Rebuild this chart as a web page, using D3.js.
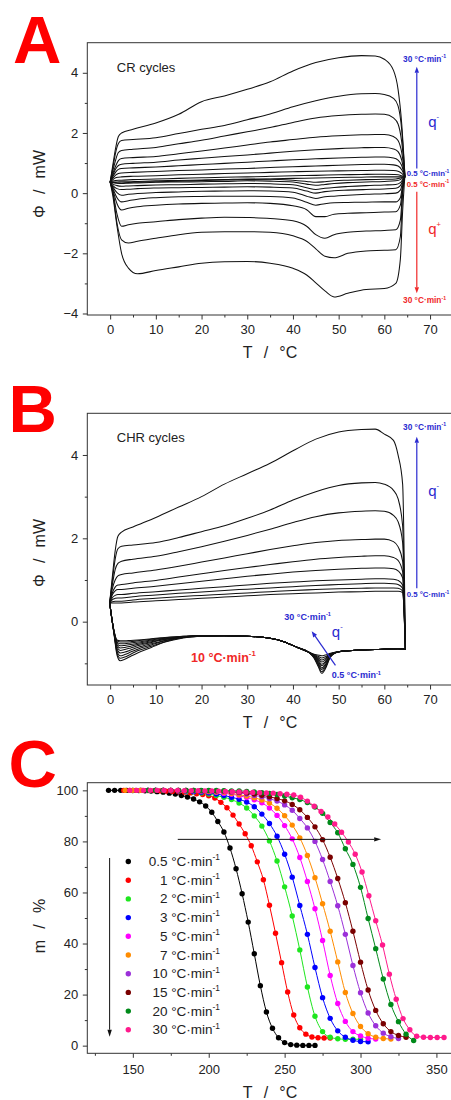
<!DOCTYPE html>
<html><head><meta charset="utf-8">
<script src="https://cdn.jsdelivr.net/npm/d3@7/dist/d3.min.js"></script>
<style>
html,body{margin:0;padding:0;background:#fff;}
svg{display:block;}
</style></head>
<body>
<svg id="chart" width="451" height="1100" xmlns="http://www.w3.org/2000/svg"></svg>
<script>
// ================= DATA =================
const rates = [30, 20, 15, 10, 7, 5, 3, 2, 1, 0.5];

// ---- Panel A : CR cycles ----
const TA_cool = [0, 0.6, 1.2, 1.8, 2.5, 5, 10, 15, 20, 25, 30, 35, 40, 45, 50, 55, 58, 60, 62, 63, 63.8, 64.5];
const A_cool = [
  [0.37, 0.95, 1.5, 1.88, 2.0, 2.12, 2.33, 2.62, 3.04, 3.23, 3.45, 3.7, 4.06, 4.34, 4.5, 4.57, 4.56, 4.45, 4.08, 3.45, 2.3, 0.6],
  [0.37, 0.85, 1.35, 1.65, 1.75, 1.78, 1.84, 1.98, 2.12, 2.25, 2.44, 2.63, 2.87, 3.07, 3.22, 3.3, 3.31, 3.28, 3.15, 2.9, 2.1, 0.58],
  [0.37, 0.75, 1.1, 1.35, 1.42, 1.46, 1.52, 1.64, 1.76, 1.9, 2.04, 2.18, 2.35, 2.5, 2.58, 2.62, 2.63, 2.62, 2.5, 2.3, 1.7, 0.57],
  [0.37, 0.65, 0.9, 1.08, 1.15, 1.18, 1.22, 1.31, 1.4, 1.5, 1.6, 1.7, 1.78, 1.86, 1.91, 1.94, 1.95, 1.95, 1.88, 1.75, 1.35, 0.56],
  [0.37, 0.6, 0.8, 0.92, 0.96, 0.99, 1.03, 1.1, 1.16, 1.22, 1.27, 1.33, 1.39, 1.44, 1.48, 1.51, 1.52, 1.52, 1.47, 1.38, 1.1, 0.55],
  [0.37, 0.55, 0.7, 0.79, 0.82, 0.84, 0.87, 0.91, 0.95, 0.99, 1.03, 1.07, 1.11, 1.14, 1.17, 1.19, 1.2, 1.2, 1.17, 1.1, 0.92, 0.55],
  [0.37, 0.5, 0.6, 0.65, 0.67, 0.69, 0.72, 0.75, 0.77, 0.8, 0.82, 0.85, 0.88, 0.9, 0.93, 0.95, 0.96, 0.96, 0.94, 0.9, 0.78, 0.55],
  [0.37, 0.45, 0.51, 0.53, 0.54, 0.56, 0.58, 0.61, 0.63, 0.65, 0.67, 0.69, 0.71, 0.73, 0.74, 0.75, 0.76, 0.76, 0.75, 0.73, 0.66, 0.55],
  [0.37, 0.4, 0.42, 0.43, 0.43, 0.45, 0.47, 0.49, 0.51, 0.53, 0.54, 0.56, 0.58, 0.59, 0.61, 0.62, 0.63, 0.63, 0.62, 0.61, 0.58, 0.55],
  [0.37, 0.36, 0.35, 0.34, 0.34, 0.36, 0.38, 0.4, 0.42, 0.44, 0.45, 0.47, 0.49, 0.5, 0.52, 0.53, 0.54, 0.54, 0.54, 0.54, 0.54, 0.55]
];
const TA_heat = [0, 0.6, 1.5, 2.5, 4, 6, 10, 15, 20, 25, 30, 35, 40, 43, 45, 47, 49, 52, 56, 60, 62.5, 63.5, 64, 64.5];
const A_heat = [
  [0.37, -0.1, -1.1, -2.0, -2.49, -2.68, -2.57, -2.45, -2.33, -2.28, -2.27, -2.33, -2.5, -2.72, -2.98, -3.25, -3.45, -3.33, -3.2, -3.17, -3.0, -2.2, -0.6, 0.6],
  [0.37, 0.0, -1.0, -1.55, -1.66, -1.6, -1.5, -1.38, -1.3, -1.28, -1.28, -1.3, -1.42, -1.6, -1.85, -2.1, -2.15, -2.0, -1.92, -1.9, -1.88, -1.45, 0.0, 0.58],
  [0.37, 0.05, -0.7, -1.1, -1.05, -1.0, -0.95, -0.88, -0.83, -0.8, -0.81, -0.84, -0.92, -1.1, -1.38, -1.5, -1.38, -1.3, -1.26, -1.24, -1.22, -0.9, 0.1, 0.57],
  [0.37, 0.1, -0.35, -0.56, -0.5, -0.45, -0.4, -0.36, -0.34, -0.33, -0.32, -0.34, -0.42, -0.55, -0.78, -0.78, -0.7, -0.67, -0.65, -0.63, -0.62, -0.4, 0.2, 0.56],
  [0.37, 0.15, -0.15, -0.29, -0.25, -0.2, -0.15, -0.12, -0.11, -0.1, -0.1, -0.11, -0.16, -0.3, -0.4, -0.35, -0.32, -0.31, -0.3, -0.29, -0.29, -0.15, 0.25, 0.55],
  [0.37, 0.2, 0.02, -0.07, -0.04, -0.01, 0.02, 0.04, 0.06, 0.07, 0.08, 0.07, 0.03, -0.1, -0.18, -0.12, -0.1, -0.07, -0.04, -0.02, 0.0, 0.1, 0.35, 0.55],
  [0.37, 0.25, 0.15, 0.12, 0.13, 0.15, 0.17, 0.18, 0.19, 0.2, 0.21, 0.2, 0.17, 0.07, 0.0, 0.05, 0.08, 0.1, 0.12, 0.14, 0.16, 0.25, 0.4, 0.55],
  [0.37, 0.3, 0.25, 0.23, 0.24, 0.25, 0.27, 0.28, 0.3, 0.31, 0.32, 0.31, 0.28, 0.18, 0.12, 0.16, 0.19, 0.22, 0.25, 0.27, 0.29, 0.35, 0.45, 0.55],
  [0.37, 0.35, 0.33, 0.32, 0.33, 0.34, 0.36, 0.37, 0.38, 0.39, 0.41, 0.4, 0.37, 0.3, 0.26, 0.29, 0.32, 0.35, 0.37, 0.39, 0.41, 0.45, 0.5, 0.55],
  [0.37, 0.37, 0.37, 0.38, 0.38, 0.39, 0.41, 0.42, 0.44, 0.45, 0.47, 0.46, 0.43, 0.39, 0.36, 0.38, 0.41, 0.43, 0.45, 0.46, 0.47, 0.5, 0.53, 0.55]
];

// ---- Panel B : CHR cycles ----
const TB_cool = [-0.1, 0.5, 1.1, 1.7, 2.5, 5, 10, 15, 20, 25, 30, 35, 40, 45, 50, 55, 58, 60, 62, 63, 64, 64.6];
const B_cool = [
  [0.45, 1.1, 1.7, 2.05, 2.15, 2.27, 2.5, 2.75, 3.0, 3.3, 3.55, 3.8, 4.1, 4.38, 4.55, 4.61, 4.62, 4.5, 4.35, 4.0, 3.3, -0.66],
  [0.45, 1.0, 1.5, 1.75, 1.81, 1.84, 1.9, 2.02, 2.16, 2.3, 2.48, 2.68, 2.92, 3.12, 3.27, 3.33, 3.34, 3.3, 3.15, 2.95, 2.3, -0.66],
  [0.45, 0.9, 1.25, 1.4, 1.45, 1.5, 1.57, 1.68, 1.8, 1.93, 2.07, 2.22, 2.38, 2.52, 2.61, 2.65, 2.66, 2.65, 2.55, 2.4, 1.9, -0.66],
  [0.45, 0.8, 1.0, 1.1, 1.13, 1.17, 1.24, 1.33, 1.43, 1.53, 1.63, 1.73, 1.82, 1.9, 1.95, 1.97, 1.98, 1.98, 1.92, 1.8, 1.45, -0.66],
  [0.45, 0.7, 0.83, 0.88, 0.89, 0.93, 0.99, 1.07, 1.15, 1.23, 1.3, 1.37, 1.44, 1.5, 1.54, 1.57, 1.58, 1.58, 1.54, 1.47, 1.2, -0.66],
  [0.45, 0.65, 0.74, 0.77, 0.77, 0.8, 0.85, 0.91, 0.97, 1.03, 1.09, 1.14, 1.19, 1.23, 1.26, 1.28, 1.29, 1.29, 1.27, 1.22, 1.05, -0.66],
  [0.45, 0.58, 0.63, 0.65, 0.65, 0.68, 0.72, 0.76, 0.8, 0.84, 0.88, 0.92, 0.95, 0.98, 1.0, 1.02, 1.03, 1.03, 1.02, 0.99, 0.88, -0.66],
  [0.45, 0.53, 0.56, 0.57, 0.57, 0.6, 0.64, 0.68, 0.71, 0.75, 0.78, 0.81, 0.84, 0.87, 0.89, 0.91, 0.92, 0.92, 0.91, 0.89, 0.8, -0.66],
  [0.45, 0.48, 0.49, 0.49, 0.49, 0.52, 0.56, 0.6, 0.63, 0.66, 0.69, 0.72, 0.75, 0.77, 0.79, 0.8, 0.81, 0.81, 0.81, 0.8, 0.74, -0.66],
  [0.45, 0.45, 0.45, 0.45, 0.45, 0.47, 0.5, 0.53, 0.56, 0.59, 0.62, 0.65, 0.67, 0.69, 0.71, 0.72, 0.73, 0.73, 0.73, 0.73, 0.7, -0.66]
];
const TB_heat = [-0.1, 0.4, 0.9, 1.5, 2.2, 3.2, 4.5, 6, 9, 12, 16, 20, 25, 30, 35, 38, 41, 43.4, 44.6, 45.5, 46.3, 47.1, 48.2, 50, 53, 58, 63, 64.6];
const B_heat = [
  [0.45, 0.05, -0.35, -0.8, -0.94, -0.9, -0.83, -0.75, -0.62, -0.49, -0.39, -0.35, -0.34, -0.35, -0.4, -0.48, -0.62, -0.73, -0.78, -0.8, -0.82, -0.8, -0.76, -0.72, -0.69, -0.67, -0.65, -0.66],
  [0.45, 0.05, -0.33, -0.75, -0.88, -0.85, -0.78, -0.7, -0.59, -0.48, -0.38, -0.35, -0.34, -0.35, -0.4, -0.48, -0.62, -0.73, -0.79, -0.83, -0.87, -0.84, -0.77, -0.72, -0.69, -0.67, -0.65, -0.66],
  [0.45, 0.05, -0.32, -0.7, -0.82, -0.79, -0.73, -0.66, -0.56, -0.46, -0.38, -0.35, -0.34, -0.35, -0.4, -0.48, -0.62, -0.73, -0.8, -0.86, -0.92, -0.88, -0.78, -0.72, -0.69, -0.67, -0.65, -0.66],
  [0.45, 0.05, -0.3, -0.65, -0.75, -0.73, -0.68, -0.62, -0.53, -0.45, -0.37, -0.35, -0.34, -0.35, -0.4, -0.48, -0.62, -0.73, -0.81, -0.89, -0.97, -0.92, -0.79, -0.72, -0.69, -0.67, -0.65, -0.66],
  [0.45, 0.05, -0.29, -0.6, -0.69, -0.67, -0.63, -0.58, -0.5, -0.43, -0.37, -0.34, -0.34, -0.35, -0.4, -0.48, -0.62, -0.73, -0.82, -0.92, -1.02, -0.96, -0.8, -0.72, -0.69, -0.67, -0.65, -0.66],
  [0.45, 0.05, -0.28, -0.56, -0.63, -0.62, -0.59, -0.55, -0.48, -0.42, -0.36, -0.34, -0.34, -0.35, -0.4, -0.48, -0.62, -0.73, -0.83, -0.95, -1.06, -0.99, -0.81, -0.72, -0.69, -0.67, -0.65, -0.66],
  [0.45, 0.05, -0.27, -0.52, -0.58, -0.57, -0.55, -0.52, -0.46, -0.41, -0.36, -0.34, -0.34, -0.35, -0.4, -0.48, -0.62, -0.73, -0.84, -0.98, -1.11, -1.03, -0.82, -0.72, -0.69, -0.67, -0.65, -0.66],
  [0.45, 0.05, -0.26, -0.49, -0.53, -0.53, -0.51, -0.49, -0.44, -0.4, -0.36, -0.34, -0.34, -0.35, -0.4, -0.48, -0.62, -0.73, -0.85, -1.01, -1.15, -1.06, -0.83, -0.72, -0.69, -0.67, -0.65, -0.66],
  [0.45, 0.05, -0.25, -0.46, -0.49, -0.49, -0.48, -0.46, -0.42, -0.39, -0.35, -0.34, -0.34, -0.35, -0.4, -0.48, -0.62, -0.73, -0.86, -1.04, -1.2, -1.1, -0.84, -0.72, -0.69, -0.67, -0.65, -0.66],
  [0.45, 0.05, -0.25, -0.44, -0.46, -0.46, -0.45, -0.44, -0.41, -0.38, -0.35, -0.34, -0.34, -0.35, -0.4, -0.48, -0.62, -0.73, -0.87, -1.07, -1.24, -1.13, -0.85, -0.72, -0.69, -0.67, -0.65, -0.66]
];

// ---- Panel C : TGA ----
const tgaRates  = ["0.5", "1", "2", "3", "5", "7", "10", "15", "20", "30"];
const tgaColors = ["#000000", "#ff0000", "#1ee61e", "#0000ff", "#ff00ff", "#ff8c00", "#9b30d9", "#7a0000", "#008a1a", "#ff1a8c"];
const tgaStart  = [134, 144, 150, 150, 155, 145, 160, 165, 160, 148];
const tgaStep   = [4, 4, 5, 5, 5, 5, 5, 5, 5, 4.5];
const tgaMass = [
  [100,100,100,100,99.9, 99.9,99.8,99.7,99.5,99.3, 98.9,98.6,98,97.4,96.6, 95.5,93.9,91.4,87.8,83.7, 77.4,69.3,59.5,48.4,36, 23.5,13.2,6.8,3.1,1.2, 0.4,0.2,0.1,0.1,0.1],
  [100,100,100,100,99.9, 99.9,99.8,99.7,99.6,99.5, 99.3,99,98.7,98.4,97.9, 97,95.3,93.2,90.3,86.8, 83,78.3,72,65,55, 44,32.5,21,12,7, 4.5,3.4,3.1,3,3],
  [100,100,100,100,99.9, 99.9,99.8,99.6,99.4,99, 98.6,98,97.3,96.4,95, 93.1,90,86,80.2,72.3, 62.2,50.8,37.5,23,11.5, 5.5,3.3,2.7,2.5,2.5, 2.5],
  [100,100,100,100,100, 99.9,99.8,99.7,99.5,99.3, 99,98.6,98,97.3,96.5, 95.4,93.6,90.7,87,82, 75,66,54.9,43.6,30.6, 18.8,10.7,5.8,3.3,2.1, 1.6,1.5],
  [100,100,100,100,100, 99.9,99.9,99.8,99.7,99.5, 99.3,98.8,98.5,97.9,97.2, 96.3,95.1,93.1,90.2,86.2, 81,73.7,64.3,53.6,41.2, 27.5,16.5,9.5,5.5,3.8, 2.9,2.6],
  [100,100,100,100,100, 100,100,100,99.9,99.9, 99.8,99.6,99.4,99.2,98.8, 98.3,97.8,97.1,96.2,95, 93,90.1,86.4,81.4,74.5, 65.8,55.6,44.8,32.8,20.8, 12.6,7.5,4.7,3.3,2.8, 2.6],
  [100,100,100,100,100, 100,99.9,99.9,99.8,99.7, 99.5,99.3,99,98.6,98, 97.5,96.7,95.8,94.3,92.2, 89,85.3,80,72.9,64.3, 54.8,43.6,31.4,20.7,12.8, 7.8,4.9,3.5,2.8],
  [100,100,100,100,100, 100,99.9,99.9,99.8,99.7, 99.5,99.3,99,98.6,98.1, 97.5,96.8,95.9,94.5,92.4, 89.4,85.7,80.7,73.8,65.5, 56,44.8,32.7,21.8,13.8, 8.6,5.5,4,3.3],
  [100,100,100,100,100, 100,100,100,100,100, 99.9,99.8,99.8,99.6,99.4, 99.1,98.8,98.4,97.8,97.1, 96.4,95.2,93.5,91,87.4, 83.4,77.1,71,62,49.8, 38,26.1,16.1,9.4,4.5, 2],
  [100,100,100,100,100, 100,100,100,99.9,99.9, 99.9,99.8,99.8,99.7,99.6, 99.5,99.4,99.3,99.2,99.1, 99,98.9,98.7,98.5,98.2, 97.3,95.8,93.8,91.7,89.6, 86.8,83.6,79.8,75,68, 58.7,48.9,39.4,28,18.2, 10.6,6.2,3.7,3.3,3.2, 3.2,3.2]
];

// ---- Axis ticks ----
const xMajorAB = [0, 10, 20, 30, 40, 50, 60, 70];
const xMinorAB = [5, 15, 25, 35, 45, 55, 65];
const yMajorA = [-4, -2, 0, 2, 4];
const yMinorA = [-3, -1, 1, 3];
const yMajorB = [0, 2, 4];
const yMinorB = [-1, 1, 3];
const xMajorC = [150, 200, 250, 300, 350];
const xMinorC = [125, 175, 225, 275, 325];
const yMajorC = [0, 20, 40, 60, 80, 100];
const yMinorC = [10, 30, 50, 70, 90];

// ================= DRAW =================
const FONT = "'Liberation Sans', Arial, Helvetica, sans-serif";
const svg = d3.select("#chart");
const BLUE = "#2a2ad0", RED = "#f02828";

const xA = d3.scaleLinear().domain([-5, 75]).range([87.3, 452.9]);
const yA = d3.scaleLinear().domain([-4.05, 5]).range([315, 42.7]);
const yB = d3.scaleLinear().domain([-1.52, 5]).range([685, 413.3]);
const xC = d3.scaleLinear().domain([120, 360]).range([87.3, 451.6]);
const yC = d3.scaleLinear().domain([-3, 103]).range([1053.3, 782.7]);

function frame(x, y, xMaj, xMin, yMaj, yMin, xPad) {
  const g = svg.append("g");
  const [x0, x1] = x.range();
  const [yb, yt] = y.range();
  g.append("g").attr("transform", `translate(0,${yb})`)
    .call(d3.axisBottom(x).tickValues(xMin).tickSize(2.5).tickFormat(""));
  g.append("g").attr("transform", `translate(0,${yb})`)
    .call(d3.axisBottom(x).tickValues(xMaj).tickSize(4.5).tickPadding(xPad).tickFormat(d3.format("d")));
  g.append("g").attr("transform", `translate(${x0},0)`)
    .call(d3.axisLeft(y).tickValues(yMin).tickSize(2.5).tickFormat(""));
  g.append("g").attr("transform", `translate(${x0},0)`)
    .call(d3.axisLeft(y).tickValues(yMaj).tickSize(4.5).tickPadding(4.5).tickFormat(d3.format("d")));
  g.selectAll(".domain").remove();
  g.selectAll("text").attr("font-size", 13).attr("font-family", FONT).attr("fill", "#222");
  g.selectAll("line").attr("stroke", "#333");
  g.append("rect").attr("x", x0).attr("y", yt).attr("width", x1 - x0).attr("height", yb - yt)
    .attr("fill", "none").attr("stroke", "#333").attr("stroke-width", 1);
}

function text(x, y, s, size, opts = {}) {
  return svg.append("text").attr("x", x).attr("y", y).attr("font-family", FONT)
    .attr("font-size", size).attr("font-weight", opts.weight || "normal")
    .attr("fill", opts.color || "#222").attr("text-anchor", opts.anchor || "start").text(s);
}
function rateText(x, y, rate, size, color, weight, anchor) {
  const t = svg.append("text").attr("x", x).attr("y", y).attr("font-family", FONT)
    .attr("font-size", size).attr("font-weight", weight || "normal").attr("fill", color)
    .attr("text-anchor", anchor || "start");
  t.append("tspan").text(`${rate} °C·min`);
  t.append("tspan").attr("font-size", size * 0.62).attr("dy", -size * 0.42).text("-1");
  return t;
}
function qText(x, y, sign, color, size) {
  const t = svg.append("text").attr("x", x).attr("y", y).attr("font-family", FONT)
    .attr("font-size", size).attr("fill", color);
  t.append("tspan").text("q");
  t.append("tspan").attr("font-size", size * 0.5).attr("dy", -size * 0.5).text(sign);
}
function arrow(x1, y1, x2, y2, color, len, w, sw) {
  const a = Math.atan2(y2 - y1, x2 - x1);
  const bx = x2 - len * Math.cos(a), by = y2 - len * Math.sin(a);
  svg.append("line").attr("x1", x1).attr("y1", y1).attr("x2", bx).attr("y2", by)
    .attr("stroke", color).attr("stroke-width", sw);
  const px = -Math.sin(a) * w, py = Math.cos(a) * w;
  svg.append("path").attr("d", `M${x2},${y2}L${bx + px},${by + py}L${bx - px},${by - py}Z`).attr("fill", color);
}
function axisTitles(cx, baseX, cy, xTitle, yTitle) {
  text(cx, baseX, xTitle, 16, { anchor: "middle" });
  svg.append("text").attr("transform", `translate(45,${cy}) rotate(-90)`)
    .attr("font-family", FONT).attr("font-size", 16).attr("fill", "#222")
    .attr("text-anchor", "middle").text(yTitle);
}
const SP = "\u2002\u2009";

// ---------- Panel A ----------
frame(xA, yA, xMajorAB, xMinorAB, yMajorA, yMinorA, 5.5);
{
  const line = d3.line().x(d => xA(d[0])).y(d => yA(d[1])).curve(d3.curveMonotoneX);
  const gA = svg.append("g").attr("fill", "none").attr("stroke", "#111").attr("stroke-width", 1.05);
  rates.forEach((r, i) => {
    gA.append("path").attr("d", line(TA_cool.map((t, j) => [t, A_cool[i][j]])));
    gA.append("path").attr("d", line(TA_heat.map((t, j) => [t, A_heat[i][j]])));
  });
  text(xA(1.45), yA(4.03), "CR cycles", 13);
  rateText(xA(64.1), yA(4.37), "30", 8.3, BLUE, "bold");
  arrow(xA(67.1), yA(0.82), xA(67.1), yA(4.2), BLUE, 6, 2.2, 1.2);
  qText(xA(69.6), yA(2.2), "-", BLUE, 15);
  rateText(xA(64.9), yA(0.57), "0.5", 7.8, BLUE, "bold");
  rateText(xA(64.9), yA(0.22), "0.5", 7.8, RED, "bold");
  arrow(xA(67.1), yA(0.05), xA(67.1), yA(-3.33), RED, 6, 2.2, 1.2);
  qText(xA(69.6), yA(-1.36), "+", RED, 15);
  rateText(xA(64.1), yA(-3.66), "30", 8.3, RED, "bold");
  axisTitles(270, 358, 184, `T${SP}/${SP}°C`, `Φ${SP}/${SP}mW`);
  text(13, 63, "A", 67, { weight: "bold", color: "#ff0000" });
}

// ---------- Panel B ----------
frame(xA, yB, xMajorAB, xMinorAB, yMajorB, yMinorB, 5.5);
{
  const line = d3.line().x(d => xA(d[0])).y(d => yB(d[1])).curve(d3.curveMonotoneX);
  const gB = svg.append("g").attr("fill", "none").attr("stroke", "#111").attr("stroke-width", 1.05);
  rates.forEach((r, i) => {
    gB.append("path").attr("d", line(TB_cool.map((t, j) => [t, B_cool[i][j]])));
    gB.append("path").attr("d", line(TB_heat.map((t, j) => [t, B_heat[i][j]])));
  });
  text(xA(1.45), yB(4.32), "CHR cycles", 13);
  rateText(xA(64.1), yB(4.6), "30", 8.3, BLUE, "bold");
  arrow(xA(67.1), yB(0.8), xA(67.1), yB(4.44), BLUE, 6, 2.2, 1.2);
  qText(xA(69.6), yB(3.02), "-", BLUE, 15);
  rateText(xA(64.9), yB(0.59), "0.5", 7.8, BLUE, "bold");
  arrow(xA(49.3), yB(-1.05), xA(44.1), yB(-0.23), BLUE, 6, 2.3, 1.2);
  rateText(xA(38.1), yB(0.04), "30", 9, BLUE, "bold");
  qText(xA(48.5), yB(-0.36), "-", BLUE, 15);
  rateText(xA(48.5), yB(-1.36), "0.5", 9, BLUE, "bold");
  rateText(xA(17.7), yB(-0.96), "10", 12.5, RED, "bold");
  axisTitles(270, 728.3, 553, `T${SP}/${SP}°C`, `Φ${SP}/${SP}mW`);
  text(8.5, 431.7, "B", 67, { weight: "bold", color: "#ff0000" });
}

// ---------- Panel C ----------
frame(xC, yC, xMajorC, xMinorC, yMajorC, yMinorC, 7);
{
  const line = d3.line().x(d => xC(d[0])).y(d => yC(d[1])).curve(d3.curveMonotoneX);
  const series = tgaMass.map((ms, i) => ms.map((m, j) => [tgaStart[i] + j * tgaStep[i], m]));
  const gC = svg.append("g");
  series.forEach((pts, i) => {
    gC.append("path").attr("d", line(pts)).attr("fill", "none")
      .attr("stroke", tgaColors[i]).attr("stroke-width", 1);
  });
  series.forEach((pts, i) => {
    gC.append("g").selectAll("circle").data(pts).join("circle")
      .attr("cx", d => xC(d[0])).attr("cy", d => yC(d[1])).attr("r", 2.7)
      .attr("fill", tgaColors[i]);
  });
  arrow(xC(179.6), yC(80.8), xC(313.6), yC(80.8), "#111", 7, 2.2, 1);
  arrow(xC(134.7), yC(73.5), xC(134.7), yC(3.5), "#111", 7, 2.2, 1);
  tgaRates.forEach((r, i) => {
    const yy = 866 + i * 18.7;
    svg.append("circle").attr("cx", 128.3).attr("cy", yy - 4.5).attr("r", 2.7).attr("fill", tgaColors[i]);
    rateText(220, yy, r, 13.5, "#222", "normal", "end");
  });
  axisTitles(270, 1098, 926, `T${SP}/${SP}°C`, `m${SP}/${SP}%`);
  text(8.5, 787, "C", 67, { weight: "bold", color: "#ff0000" });
}
</script>
</body></html>
